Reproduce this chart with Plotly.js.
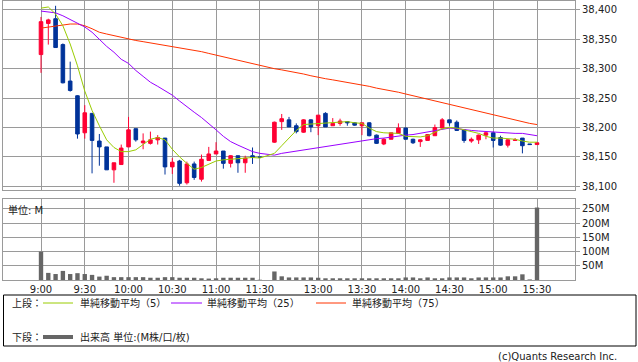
<!DOCTYPE html>
<html><head><meta charset="utf-8">
<script src="https://cdn.plot.ly/plotly-3.0.1.min.js"></script>
<style>html,body{margin:0;padding:0;background:#fff}#chart{width:638px;height:362px}</style>
</head><body><div id="chart"></div>
<script>
const times = ["9:00","9:05","9:10","9:15","9:20","9:25","9:30","9:35","9:40","9:45","9:50","9:55",
"10:00","10:05","10:10","10:15","10:20","10:25","10:30","10:35","10:40","10:45","10:50","10:55",
"11:00","11:05","11:10","11:15","11:20","11:25","11:30",
"12:30","12:35","12:40","12:45","12:50","12:55",
"13:00","13:05","13:10","13:15","13:20","13:25","13:30","13:35","13:40","13:45","13:50","13:55",
"14:00","14:05","14:10","14:15","14:20","14:25","14:30","14:35","14:40","14:45","14:50","14:55",
"15:00","15:05","15:10","15:15","15:20","15:25","15:30"];
const openP  = [38324,38377,38385,38341,38279,38254,38191,38224,38177,38167,38128,38137,38167,38198,38174,38173,38179,38182,38133,38143,38106,38138,38112,38144,38155,38160,38139,38152,38140,38152,38150,
38175,38210,38213,38203,38192,38213,38203,38224,38203,38207,38210,38208,38203,38208,38187,38172,38180,38190,38199,38180,38176,38178,38186,38199,38213,38209,38196,38177,38179,38187,38191,38183,38170,38178,38182,38172,38171];
const highP  = [38388,38385,38407,38343,38312,38255,38238,38224,38189,38167,38140,38171,38218,38198,38190,38193,38187,38182,38148,38145,38142,38142,38154,38167,38175,38160,38153,38152,38152,38166,38150,
38210,38223,38218,38207,38214,38214,38221,38226,38216,38215,38211,38209,38208,38209,38188,38182,38191,38207,38200,38181,38180,38188,38205,38216,38213,38212,38196,38183,38188,38193,38193,38186,38180,38182,38182,38172,38174];
const lowP   = [38293,38341,38336,38275,38261,38181,38181,38122,38135,38128,38106,38137,38167,38176,38163,38171,38171,38120,38121,38101,38103,38111,38108,38144,38155,38130,38132,38123,38123,38138,38149,
38174,38196,38201,38190,38191,38192,38187,38201,38203,38203,38203,38203,38187,38185,38172,38170,38180,38189,38180,38172,38167,38178,38186,38199,38203,38194,38174,38174,38172,38180,38166,38169,38166,38178,38156,38171,38171];
const closeP = [38380,38383,38336,38276,38263,38189,38225,38178,38167,38128,38140,38165,38196,38179,38177,38179,38183,38133,38141,38105,38138,38115,38146,38155,38160,38139,38152,38140,38148,38149,38149,
38209,38215,38201,38193,38213,38201,38221,38201,38207,38211,38208,38204,38208,38186,38173,38180,38191,38199,38180,38174,38179,38188,38200,38213,38208,38195,38178,38180,38187,38191,38178,38170,38179,38179,38169,38171,38174];
const ma5  = [38403,38405,38393,38373,38342,38305,38262,38229,38203,38179,38166,38159,38159,38162,38171,38180,38183,38179,38163,38150,38139,38129,38132,38138,38143,38145,38146,38147,38148,38149,38148,
38156,38169,38182,38195,38205,38206,38206,38207,38209,38210,38210,38208,38207,38199,38193,38191,38190,38190,38185,38184,38184,38186,38192,38198,38200,38199,38196,38193,38190,38185,38182,38182,38181,38180,38177,38175,38175];
const ma25 = [38398,38397,38395,38390,38384,38378,38371,38362,38350,38338,38328,38316,38309,38297,38287,38277,38270,38262,38255,38245,38235,38226,38217,38207,38196,38185,38176,38170,38164,38159,38156,
38153,38156,38158,38160,38162,38163,38165,38167,38169,38171,38173,38175,38177,38179,38181,38182,38184,38186,38187,38188,38190,38192,38194,38197,38199,38198,38196,38195,38194,38193,38192,38191,38191,38190,38190,38188,38186];
const ma75 = [38369,38371,38373,38375,38376,38376,38373,38368,38362,38359,38356,38353,38350,38348,38346,38344,38342,38340,38338,38335,38333,38331,38329,38326,38323,38320,38317,38314,38311,38308,38305,
38300,38298,38296,38294,38291,38288,38285,38283,38281,38279,38277,38274,38272,38270,38267,38265,38262,38260,38257,38254,38251,38248,38245,38242,38240,38237,38234,38231,38228,38225,38222,38219,38216,38213,38210,38207,38205];
const volumeM = [100,25,21,32,21,24,21,18,12,15,10,10,10,10,10,8,8,10,10,8,8,8,6,5,6,8,8,8,8,8,1,
30,13,9,9,9,9,8,6,6,6,6,6,6,6,6,6,6,6,9,9,6,9,6,6,9,9,9,6,9,9,9,9,13,13,20,2,255];
const priceTicks = [38100,38150,38200,38250,38300,38350,38400];
const volTicks = [50,100,150,200,250];
const volTickText = ["50M","100M","150M","200M","250M"];
const timeTicks = ["9:00","9:30","10:00","10:30","11:00","11:30","13:00","13:30","14:00","14:30","15:00","15:30"];

// trading-time scale: morning session, one empty slot for the lunch break, afternoon session
function slotOf(t){
  const p = t.split(':').map(Number); const m = p[0]*60+p[1];
  return m < 720 ? (m-540)/5 : (m-750)/5 + 32;
}
const xs = times.map(slotOf);
const W = 638, H = 362;
const px = x => x/W, py = y => 1 - y/H;
const FONT = 'DejaVu Sans, Noto Sans CJK JP, sans-serif';
const GRID = '#9a9a9a';

const traces = [
  {type:'candlestick', x:xs, open:openP, high:highP, low:lowP, close:closeP, xaxis:'x', yaxis:'y',
   increasing:{line:{color:'#FF0033',width:1}, fillcolor:'#FF0033'},
   decreasing:{line:{color:'#003399',width:1}, fillcolor:'#003399'},
   whiskerwidth:0, showlegend:false, hoverinfo:'skip'},
  {type:'scatter', mode:'lines', x:xs, y:ma75, line:{color:'#FF3300',width:1}, xaxis:'x', yaxis:'y', showlegend:false, hoverinfo:'skip'},
  {type:'scatter', mode:'lines', x:xs, y:ma25, line:{color:'#9900FF',width:1}, xaxis:'x', yaxis:'y', showlegend:false, hoverinfo:'skip'},
  {type:'scatter', mode:'lines', x:xs, y:ma5, line:{color:'#99CC00',width:1}, xaxis:'x', yaxis:'y', showlegend:false, hoverinfo:'skip'},
  {type:'bar', x:xs, y:volumeM, marker:{color:'#666666',line:{width:0}}, width:0.6, xaxis:'x2', yaxis:'y2', showlegend:false, hoverinfo:'skip'}
];

const xr = [-5.21, 73.21];
const tickv = timeTicks.map(slotOf);
const common = {showline:true, mirror:true, linecolor:GRID, linewidth:1, gridcolor:GRID, gridwidth:1, zeroline:false, fixedrange:true};

const lineShape = (x0,x1,y,color,w) => ({type:'line', xref:'paper', yref:'paper', x0:px(x0), x1:px(x1), y0:py(y), y1:py(y), line:{color:color,width:w}});
const ann = (text,x,y,anchor) => ({text:text, xref:'paper', yref:'paper', x:px(x), y:py(y), xanchor:anchor||'left', yanchor:'middle', showarrow:false, font:{family:FONT,size:10,color:'#222'}});

const layout = {
  width:W, height:H, margin:{l:0,r:0,t:0,b:0}, paper_bgcolor:'#fff', plot_bgcolor:'#fff',
  font:{family:FONT, size:10, color:'#222'}, showlegend:false, dragmode:false,
  xaxis: Object.assign({}, common, {domain:[px(3),px(575)], range:xr, anchor:'y', tickvals:tickv, showticklabels:false, ticks:'', rangeslider:{visible:false}}),
  yaxis: Object.assign({}, common, {domain:[py(190),py(0.5)], range:[38093.7, 38416], anchor:'x', side:'right', tickvals:priceTicks, tickformat:',d', ticks:'outside', ticklen:4, tickcolor:GRID}),
  xaxis2: Object.assign({}, common, {domain:[px(3),px(575)], range:xr, anchor:'y2', tickvals:tickv, ticktext:timeTicks, ticks:'', tickfont:{family:FONT,size:10,color:'#222'}}),
  yaxis2: Object.assign({}, common, {domain:[py(280),py(199)], range:[0,285], anchor:'x2', side:'right', tickvals:volTicks, ticktext:volTickText, ticks:'outside', ticklen:4, tickcolor:GRID}),
  shapes: [
    {type:'rect', xref:'paper', yref:'paper', x0:px(3.5), x1:px(636), y0:py(346), y1:py(295), line:{color:'#000',width:1}},
    lineShape(43,73,303,'#99CC00',1),
    lineShape(171,202,303,'#9900FF',1),
    lineShape(316,346,303,'#FF3300',1),
    lineShape(43,73,337,'#666666',4)
  ],
  annotations: [
    ann('単位: M',6,210),
    ann('上段：',10,303),
    ann('単純移動平均（5）',78,303),
    ann('単純移動平均（25）',205,303),
    ann('単純移動平均（75）',350,303),
    ann('下段：',10,337),
    ann('出来高 単位:(M株/口/枚)',78,337),
    ann('(c)Quants Research Inc.',619,356,'right')
  ]
};
Plotly.newPlot('chart', traces, layout, {staticPlot:true, displayModeBar:false});
</script></body></html>
